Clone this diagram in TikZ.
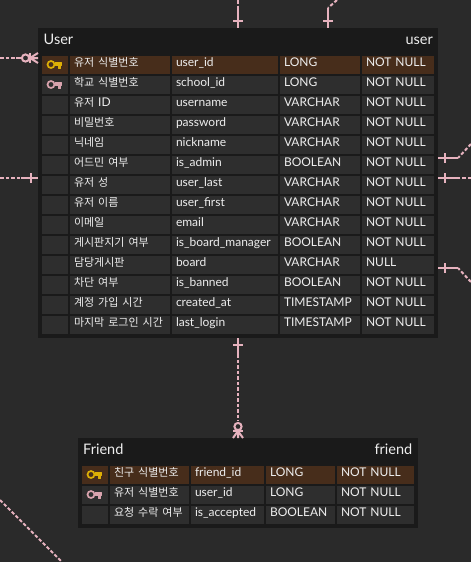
\documentclass[tikz,border=0pt]{standalone}
\usepackage{fontspec}
\setmainfont{Lato}
\newfontfamily\krfont{Noto Sans CJK KR}
\newcommand{\ko}[1]{\raisebox{0.2pt}{\fontsize{11}{11}\krfont #1}}
\definecolor{bgc}{HTML}{2A2A2A}
\definecolor{outerc}{HTML}{1A1A1A}
\definecolor{cellc}{HTML}{2E2E2E}
\definecolor{pkc}{HTML}{472D1B}
\definecolor{txtc}{HTML}{EEEEEE}
\definecolor{linkc}{HTML}{E6B2BE}
\definecolor{goldc}{HTML}{DDAF06}
\definecolor{fkc}{HTML}{D9A3AE}
\tikzset{
  tablebox/.style={fill=outerc,draw=none,anchor=north west,inner sep=0pt,outer sep=0pt},
  cellbox/.style={anchor=north west,inner ysep=0pt,inner xsep=4pt,outer sep=0pt,text height=10.6pt,text depth=7.4pt,
     font=\fontsize{12}{12}\selectfont,text=txtc,fill=cellc},
  titletext/.style={text=txtc,font=\fontsize{14.5}{14.5}\selectfont,inner sep=0pt},
  link/.style={draw=linkc,line width=2pt},
  linkdash/.style={link,dash pattern=on 3.5pt off 2pt},
  keyshape/.style={line width=1.7pt,fill=none}
}
\newcommand{\keyicon}[3]{% cx, cy, colour
  \draw[keyshape,draw=#3] (#1,#2) circle (3.5pt);
  \draw[line width=1pt,draw=#3,fill=#3,line join=round] (#1+4,#2-2) -- (#1+10.5,#2-2) -- (#1+10.5,#2+1) -- (#1+9.5,#2+1) -- (#1+9.5,#2+4) -- (#1+7.5,#2+4) -- (#1+7.5,#2+1) -- (#1+4,#2+1) -- cycle;
}
\newcommand{\cellat}[6]{% name, x, y, width, fill, text
  \pgfmathsetmacro{\cw}{#4-8}
  \node[cellbox,fill=#5,text width=\cw pt] (#1) at (#2,#3) {\rlap{#6}};
}
\begin{document}
\begin{tikzpicture}[x=1pt,y=-1pt]
\useasboundingbox[fill=bgc] (0,0) rectangle (471,562);

% ---------- tables
\node[tablebox,minimum width=400pt,minimum height=310pt] (user) at (38,28) {};
\node[tablebox,minimum width=340pt,minimum height=90pt] (friend) at (78,438) {};

\node[titletext,anchor=base west] (userTitle) at (43.5,44) {User};
\node[titletext,anchor=base east] (userName) at (433,44) {user};
\node[titletext,anchor=base west] (friendTitle) at (83,454) {Friend};
\node[titletext,anchor=base east] (friendName) at (412.5,454) {friend};

\foreach \i/\kn/\col/\typ/\nul in {
 0/{\ko{유저 식별번호}}/user\_id/LONG/NOT NULL,
 1/{\ko{학교 식별번호}}/school\_id/LONG/NOT NULL,
 2/{\ko{유저} ID}/username/VARCHAR/NOT NULL,
 3/{\ko{비밀번호}}/password/VARCHAR/NOT NULL,
 4/{\ko{닉네임}}/nickname/VARCHAR/NOT NULL,
 5/{\ko{어드민 여부}}/is\_admin/BOOLEAN/NOT NULL,
 6/{\ko{유저 성}}/user\_last/VARCHAR/NOT NULL,
 7/{\ko{유저 이름}}/user\_first/VARCHAR/NOT NULL,
 8/{\ko{이메일}}/email/VARCHAR/NOT NULL,
 9/{\ko{게시판지기 여부}}/is\_board\_manager/BOOLEAN/NOT NULL,
 10/{\ko{담당게시판}}/board/VARCHAR/NULL,
 11/{\ko{차단 여부}}/is\_banned/BOOLEAN/NOT NULL,
 12/{\ko{계정 가입 시간}}/created\_at/TIMESTAMP/NOT NULL,
 13/{\ko{마지막 로그인 시간}}/last\_login/TIMESTAMP/NOT NULL}{
  \pgfmathsetmacro{\ry}{56+20*\i}
  \ifnum\i=0 \def\rf{pkc}\else\def\rf{cellc}\fi
  \cellat{uicon\i}{42}{\ry}{26}{\rf}{}
  \cellat{uko\i}{70}{\ry}{100}{\rf}{\kn}
  \cellat{ucol\i}{172}{\ry}{106}{\rf}{\col}
  \cellat{utyp\i}{280}{\ry}{80}{\rf}{\typ}
  \cellat{unul\i}{362}{\ry}{72}{\rf}{\nul}
}

\foreach \i/\kn/\col/\typ/\nul in {
 0/{\ko{친구 식별번호}}/friend\_id/LONG/NOT NULL,
 1/{\ko{유저 식별번호}}/user\_id/LONG/NOT NULL,
 2/{\ko{요청 수락 여부}}/is\_accepted/BOOLEAN/NOT NULL}{
  \pgfmathsetmacro{\ry}{466+20*\i}
  \ifnum\i=0 \def\rf{pkc}\else\def\rf{cellc}\fi
  \cellat{ficon\i}{82}{\ry}{26}{\rf}{}
  \cellat{fko\i}{110}{\ry}{79}{\rf}{\kn}
  \cellat{fcol\i}{191}{\ry}{73}{\rf}{\col}
  \cellat{ftyp\i}{266}{\ry}{69}{\rf}{\typ}
  \cellat{fnul\i}{337}{\ry}{77}{\rf}{\nul}
}

% ---------- key icons
\keyicon{51}{64.5}{goldc}
\keyicon{51}{84.5}{fkc}
\keyicon{91}{474.5}{goldc}
\keyicon{91}{494.5}{fkc}

% ---------- connector ends
\coordinate (topA) at (238,0);   \coordinate (topAm) at (238,7);   \coordinate (userA) at (238,28);
\coordinate (topB) at (337,0);   \coordinate (topBm) at (328,8);   \coordinate (userB) at (328,28);
\coordinate (leftA) at (0,58);   \coordinate (leftAm) at (16,58);  \coordinate (userC) at (38,58);
\coordinate (leftB) at (0,178);  \coordinate (leftBm) at (21,178); \coordinate (userD) at (38,178);
\coordinate (rightA) at (471,144); \coordinate (rightAm) at (458,158); \coordinate (userE) at (438,158);
\coordinate (rightB) at (471,178); \coordinate (rightBm) at (458,178); \coordinate (userF) at (438,178);
\coordinate (rightC) at (471,282); \coordinate (rightCm) at (458,268); \coordinate (userG) at (438,268);
\coordinate (userH) at (238,338); \coordinate (userHm) at (238,354); \coordinate (friendHm) at (238,421); \coordinate (friendH) at (238,438);
\coordinate (cornerA) at (0,500); \coordinate (cornerB) at (62,562);

% ---------- connectors
\draw[linkdash] (topA) -- (topAm);
\draw[link] (topAm) -- (userA);
\draw[link] (233,21) -- (243,21);
\draw[linkdash] (topB) -- (topBm);
\draw[link] (topBm) -- (userB);
\draw[link] (323,21) -- (333,21);

\draw[linkdash] (leftA) -- (leftAm);
\draw[link] (leftAm) -- (22,58);
\draw[link] (25.5,58) circle (3.6pt);
\draw[link] (30,53) -- (30,63);
\draw[link] (30,58) -- (38,53) (30,58) -- (userC) (30,58) -- (38,63);

\draw[linkdash] (leftB) -- (leftBm);
\draw[link] (leftBm) -- (userD);
\draw[link] (31,173) -- (31,183);

\draw[linkdash] (rightA) -- (rightAm);
\draw[link] (rightAm) -- (userE);
\draw[link] (445,153) -- (445,163);
\draw[linkdash] (rightB) -- (rightBm);
\draw[link] (rightBm) -- (userF);
\draw[link] (445,173) -- (445,183);
\draw[linkdash] (rightC) -- (rightCm);
\draw[link] (rightCm) -- (userG);
\draw[link] (445,263) -- (445,273);

\draw[link] (userH) -- (userHm);
\draw[link] (233,345) -- (243,345);
\draw[linkdash] (userHm) -- (friendHm);
\draw[link] (238,426.5) circle (3.6pt);
\draw[link] (233,431) -- (243,431);
\draw[link] (238,431) -- (233,438) (238,431) -- (friendH) (238,431) -- (243,438);

\draw[linkdash] (cornerA) -- (cornerB);
\end{tikzpicture}
\end{document}
